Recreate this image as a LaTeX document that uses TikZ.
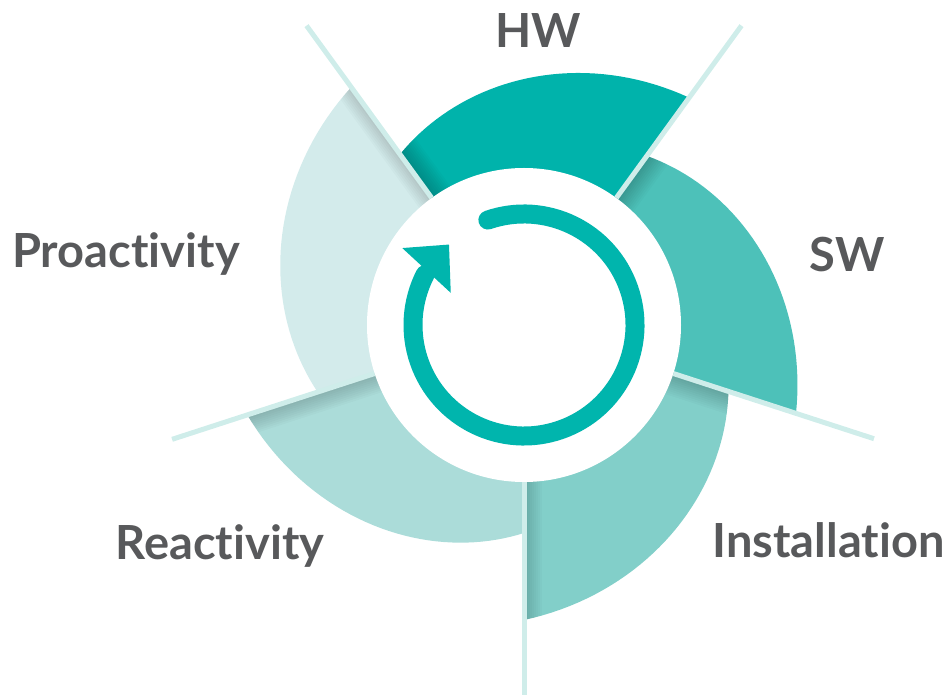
\documentclass[tikz,border=0pt]{standalone}
\usepackage{fontspec}
\setmainfont{Lato}[Ligatures={NoCommon}]
\usepackage{tikz}
\usetikzlibrary{calc}
\usepackage{xcolor}
\definecolor{HWTeal}{HTML}{00B3AB}
\definecolor{SWTeal}{HTML}{4DC1B9}
\definecolor{InstTeal}{HTML}{82CFC9}
\definecolor{ReactTeal}{HTML}{ABDCD9}
\definecolor{ProactTeal}{HTML}{D3EBEB}
\definecolor{LineTint}{HTML}{CFEDEA}
\definecolor{LabelGray}{HTML}{58595B}
\definecolor{ArrowTeal}{HTML}{00B5AD}

\begin{document}
\begin{tikzpicture}[x=1pt, y=1pt,
		divider/.style={draw=LineTint, line width=5pt},
		shadowline/.style={black, opacity=0.02},
		segtext/.style={text=LabelGray, anchor=base,
			font=\fontsize{47}{50}\selectfont\bfseries},
		ringarrow/.style={draw=ArrowTeal, line width=19pt, line cap=round}
		]
		\useasboundingbox (-524,-370) rectangle (425,325);
		\begin{scope}
			\clip (0,0) -- plot[domain=0:72, samples=40] ({126-\x}:{211+70*\x/72}) -- cycle;
			\fill[HWTeal] (-400,-400) rectangle (400,400);
			\foreach \w in {4,8,...,44} \draw[shadowline, line width=\w pt] (126:150) -- (126:320);
		\end{scope}
		\begin{scope}
			\clip (0,0) -- plot[domain=0:72, samples=40] ({54-\x}:{209+77*\x/72}) -- cycle;
			\fill[SWTeal] (-400,-400) rectangle (400,400);
			\foreach \w in {4,8,...,44} \draw[shadowline, line width=\w pt] (54:150) -- (54:320);
		\end{scope}
		\begin{scope}
			\clip (0,0) -- plot[domain=0:72, samples=40] ({-18-\x}:{215+80*\x/72}) -- cycle;
			\fill[InstTeal] (-400,-400) rectangle (400,400);
			\foreach \w in {4,8,...,44} \draw[shadowline, line width=\w pt] (-18:150) -- (-18:320);
			\foreach \w in {4,8,...,36} \draw[shadowline, line width=\w pt] (-90:150) -- (-90:320);
		\end{scope}
		\begin{scope}
			\clip (0,0) -- plot[domain=0:72, samples=40] ({-90-\x}:{208+83*\x/72}) -- cycle;
			\fill[ReactTeal] (-400,-400) rectangle (400,400);
			\foreach \w in {4,8,...,40} \draw[shadowline, line width=\w pt] (198:150) -- (198:320);
		\end{scope}
		\begin{scope}
			\clip (0,0) -- plot[domain=0:72, samples=40] ({198-\x}:{217+77*\x/72}) -- cycle;
			\fill[ProactTeal] (-400,-400) rectangle (400,400);
			\foreach \w in {4,8,...,32} \draw[shadowline, line width=\w pt] (126:150) -- (126:320);
		\end{scope}
		\node[circle, fill=white, minimum size=314pt, inner sep=0pt] (hub) at (0,0) {};
		\coordinate (e1) at (126:370);
		\coordinate (e2) at (54:370);
		\coordinate (e3) at (-18:368);
		\coordinate (e4) at (-90:370);
		\coordinate (e5) at (198:370);
		\draw[divider] (hub.126) -- (e1);
		\draw[divider] (hub.54) -- (e2);
		\draw[divider] (hub.-18) -- (e3);
		\draw[divider] (hub.-90) -- (e4);
		\draw[divider] (hub.198) -- (e5);
		\draw[ringarrow] (109:111) arc[start angle=109, end angle=-207, radius=111];
		\fill[ArrowTeal] (133:110) -- (147.7:144) -- (156.3:80) -- cycle;
		\node[segtext] (hw) at (14,277) {HW};
		\node[segtext] (sw) at (323,53) {SW};
		\node[segtext] (proact) at (-398,57) {Proactivity};
		\node[segtext] (react) at (-304,-234) {Reactivity};
		\node[segtext] (inst) at (304.5,-232) {Installation};
	\end{tikzpicture}
\end{document}
